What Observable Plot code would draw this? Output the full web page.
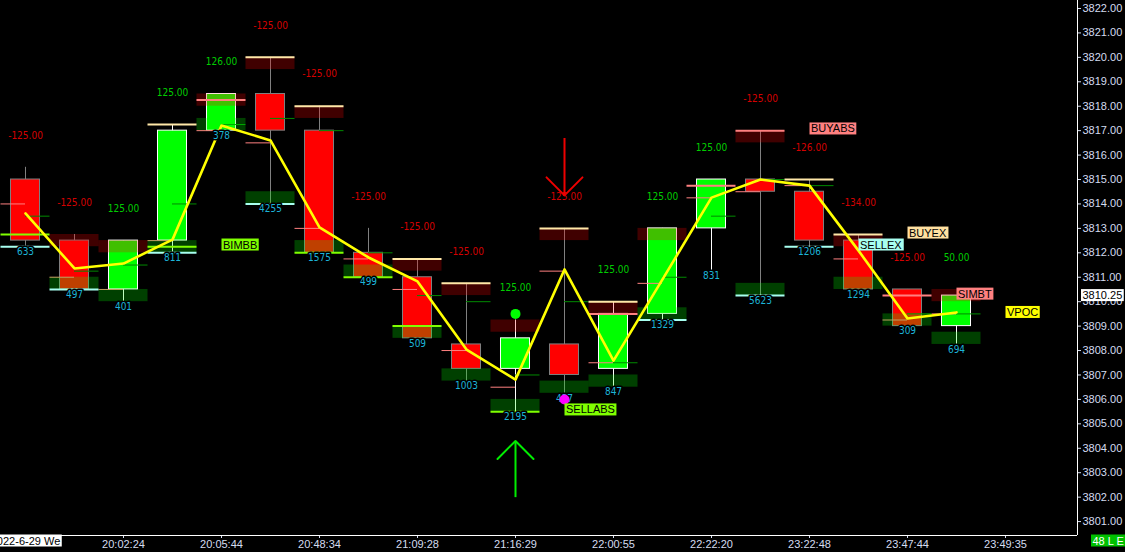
<!DOCTYPE html>
<html><head><meta charset="utf-8">
<script src="https://cdn.jsdelivr.net/npm/d3@7"></script>
<script src="https://cdn.jsdelivr.net/npm/@observablehq/plot@0.6"></script>
<style>
html,body{margin:0;padding:0;background:#000;}
#chart{width:1125px;height:552px;overflow:hidden;}
</style></head><body><div id="chart"></div>
<script>
// ---- data ----
const timeLabels = ["2022-6-29 We","20:02:24","20:05:44","20:48:34","21:09:28","21:16:29","22:00:55","22:22:20","23:22:48","23:47:44","23:49:35"];
const open  = [3815,3812.5,3810.5,3812.5,3817,3818.5,3817,3812,3811,3808.25,3807.25,3808.25,3807.25,3809.5,3813,3815,3814.5,3812.5,3810.5,3809];
const high  = [3815.5,3812.75,3812.5,3817.25,3818.5,3820,3818,3813,3811.75,3810.75,3809.25,3813,3810,3813,3815,3817,3815,3812.75,3810.5,3810.25];
const low   = [3812.25,3810.5,3810,3812,3817,3814,3812,3811,3808.5,3806.75,3805.5,3806.25,3806.5,3809.25,3811.25,3810.25,3812.25,3810.5,3809,3808.25];
const close = [3812.5,3810.5,3812.5,3817,3818.5,3817,3812,3811,3808.5,3807.25,3808.5,3807,3809.5,3813,3815,3814.5,3812.5,3810.5,3809,3810.25];
const volume = [633,497,401,811,378,4255,1575,499,509,1003,2195,437,847,1329,831,5623,1206,1294,309,694];
const delta  = [-125,-125,125,125,126,-125,-125,-125,-125,-125,125,-125,125,125,125,-125,-126,-134,-125,50];
const vwap   = [3813.61,3811.36,3811.56,3812.54,3817.21,3816.6,3813.04,3811.81,3810.83,3808.04,3806.81,3811.32,3807.59,3810.91,3814.26,3815.0,3814.75,3812.09,3809.31,3809.56];
const pinkLeft   = [3814,3811,3810.5,3812.5,3817,3816.5,3813,3811.75,3810.5,3808,3806.5,3811.25,3807.5,3810.75,3814.25,3814.5,3814.75,3811.75,3809.25,3809.5];
const greenRight = [3813.5,3811.25,3811.5,3814,3817.25,3817.5,3817,3812,3810.25,3810,3807,3810,3807.5,3811,3813.5,3815,3814.75,null,3809.5,3809.5];
const hiLine   = [null,null,null,3817.25,null,3820,3818,null,3811.75,3810.75,null,3813,3810,null,null,null,3815,3812.75,null,null];
const pinkFull = [null,null,null,null,3818.25,null,null,null,null,null,null,null,3809.5,null,3814.75,3817,null,null,3810.25,null];
const loLine   = [3812.25,3810.5,null,3812,null,3814,null,null,null,null,null,null,null,3809.25,null,3810.25,3812.25,null,null,null];
const limeLine = [3812.75,null,null,3812.25,null,null,3812,3811,3809,null,3805.5,null,null,null,null,null,null,null,null,null];
const topBand    = [null,3812.75,3812.5,null,3818.5,3820,3818,null,3811.75,3810.75,3809.25,3813,3810,3813,null,3817,null,3812.75,null,3810.5];
const bottomBand = [null,3810.5,3810,3812,3817,3814,3812,3811,3808.5,3806.75,3805.5,3806.25,3806.5,3809.25,null,3810.25,null,3810.5,3809,3808.25];
const sigText  = ["BIMBB","SELLABS","BUYABS","SELLEX","BUYEX","SIMBT","VPOC"];
const sigIndex = [4,11,16,17,18,19,20];
const sigPrice = [3812.32,3805.57,3817.07,3812.32,3812.81,3810.31,3809.56];
const sigColor = ["#80ff00","#80ff00","#ff8080","#a8fff0","#ffe0a0","#ff8080","#ffff00"];
const dotIndex = [10,11];
const dotPrice = [3809.5,3806.0];
const dotColor = ["#00ff00","#ff00ff"];
const arrowIndex = [10,11];
const arrowFrom  = [3802.0,3816.7];
const arrowTo    = [3804.3,3814.35];
const arrowColor = ["#00ee00","#ee0000"];
const lastPrice = 3810.25;
const statusText = "48 L E";

// ---- build ----
const N = open.length;
const bars = d3.range(N).map(i => ({
  i, o: open[i], h: high[i], l: low[i], c: close[i], vol: volume[i], delta: delta[i], vw: vwap[i],
  pl: pinkLeft[i], gr: greenRight[i], hi: hiLine[i], pf: pinkFull[i], lo: loLine[i], lime: limeLine[i],
  tb: topBand[i], bb: bottomBand[i]
}));
bars.forEach(d => {
  d.up = d.c > d.o;
  d.top = d.tb != null ? Math.max(d.h, d.tb) : d.h;
  d.bot = d.bb != null ? Math.min(d.l, d.bb) : d.l;
});
const sigs = sigText.map((t, k) => ({t, i: sigIndex[k], p: sigPrice[k], c: sigColor[k]}));
const dots = dotIndex.map((i, k) => ({i, p: dotPrice[k], c: dotColor[k]}));
const arrows = arrowIndex.map((i, k) => ({i, from: arrowFrom[k], to: arrowTo[k], c: arrowColor[k], k}));
const WX = 0.367, WY = 0.737; // arrow-head wing size (slot / price units)
const wings = arrows.flatMap(a => {
  const dir = Math.sign(a.to - a.from);
  return [{k: a.k, c: a.c, i: a.i - WX, p: a.to - dir * WY}, {k: a.k, c: a.c, i: a.i, p: a.to}, {k: a.k, c: a.c, i: a.i + WX, p: a.to - dir * WY}];
});

const xDomain = [-25/49, 1052/49];
const yDomain = [3800.43, 3822.327];
const HW = 0.296;
const has = k => d => d[k] != null;
const small = "'Liberation Sans Narrow', 'DejaVu Sans Condensed', 'Liberation Sans', sans-serif";
const tickIdx = d3.range(0, 21, 2);

const svg = Plot.plot({
  width: 1125, height: 552,
  marginLeft: 0, marginRight: 48, marginTop: 0, marginBottom: 17,
  style: {background: "#000", color: "#d4dcf0", fontFamily: "'Liberation Sans', Arial, sans-serif", fontSize: "11px"},
  x: {domain: xDomain, ticks: tickIdx, tickFormat: d => d === 0 ? "" : timeLabels[d / 2], tickSize: 3, tickPadding: 2, label: null},
  y: {domain: yDomain, axis: "right", ticks: d3.range(3801, 3823), tickFormat: d => d.toFixed(2), tickSize: 3, tickPadding: 2, label: null},
  marks: [
    Plot.ruleY([yDomain[0]], {stroke: "#ffffff"}),
    Plot.ruleX([xDomain[1]], {stroke: "#ffffff"}),
    // wicks & bodies
    Plot.ruleX(bars, {x: "i", y1: "l", y2: "h", stroke: d => d.up ? "#ffffff" : "#808080"}),
    Plot.rect(bars, {x1: d => d.i - HW, x2: d => d.i + HW, y1: "o", y2: "c", fill: d => d.up ? "#00ff00" : "#ff0000", stroke: d => d.up ? "#ffffff" : "#808080"}),
    // half-slot thin lines
    Plot.ruleY(bars, {filter: has("pl"), y: "pl", x1: d => d.i - 0.5, x2: d => d.i, stroke: "#ff8080"}),
    Plot.ruleY(bars, {filter: has("gr"), y: "gr", x1: d => d.i, x2: d => d.i + 0.5, stroke: "#008a00"}),
    // bid/ask zones
    Plot.rect(bars, {filter: has("tb"), x1: d => d.i - 0.5, x2: d => d.i + 0.5, y1: "tb", y2: d => d.tb - 0.5, fill: "#ff0000", fillOpacity: 0.25}),
    Plot.rect(bars, {filter: has("bb"), x1: d => d.i - 0.5, x2: d => d.i + 0.5, y1: "bb", y2: d => d.bb + 0.5, fill: "#00ff00", fillOpacity: 0.25}),
    // full-slot lines
    Plot.ruleY(bars, {filter: has("hi"), y: "hi", x1: d => d.i - 0.5, x2: d => d.i + 0.5, stroke: "#ffe8a8", strokeWidth: 2}),
    Plot.ruleY(bars, {filter: has("pf"), y: "pf", x1: d => d.i - 0.5, x2: d => d.i + 0.5, stroke: "#ff8080", strokeWidth: 2}),
    Plot.ruleY(bars, {filter: has("lo"), y: "lo", x1: d => d.i - 0.5, x2: d => d.i + 0.5, stroke: "#a8fff0", strokeWidth: 2}),
    Plot.ruleY(bars, {filter: has("lime"), y: "lime", x1: d => d.i - 0.5, x2: d => d.i + 0.5, stroke: "#80ff00", strokeWidth: 2}),
    // yellow line
    Plot.line(bars, {x: "i", y: "vw", stroke: "#ffff00", strokeWidth: 2.6}),
    // texts
    Plot.text(bars, {x: "i", y: "top", dy: -32, text: d => d.delta.toFixed(2), fill: d => d.delta < 0 ? "#d40000" : "#00cc00", fontSize: 10, fontFamily: small}),
    Plot.text(bars, {x: "i", y: "bot", dy: 5, text: d => String(d.vol), fill: "#1cb4d8", stroke: "#000", strokeWidth: 3, paintOrder: "stroke", fontSize: 10, fontFamily: small}),
    // signals
    Plot.dot(dots, {x: "i", y: "p", r: 5, fill: "c"}),
    Plot.link(arrows, {x1: "i", x2: "i", y1: "from", y2: "to", stroke: "c", strokeWidth: 2}),
    Plot.line(wings, {x: "i", y: "p", z: "k", stroke: "c", strokeWidth: 2}),
    Plot.text(sigs, {x: "i", y: "p", text: "t", textAnchor: "start", dx: 1.5, fill: "#000", fontSize: 11}),
    // axis annotations
    Plot.text([lastPrice], {x: () => xDomain[1], y: d => d, text: d => d.toFixed(2), dx: 5, textAnchor: "start", fill: "#000", fontSize: 11}),
    Plot.text([timeLabels[0]], {x: () => 0, frameAnchor: "bottom", dy: 9, text: d => d, fill: "#000", fontSize: 11}),
    Plot.text([statusText], {frameAnchor: "bottom-right", dx: 15, dy: 9, text: d => d, textAnchor: "start", fill: "#ffffff", fontSize: 11})
  ]
});
document.getElementById("chart").appendChild(svg);

// backgrounds behind labelled texts
const bgMap = new Map(sigs.map(s => [s.t, s.c]));
bgMap.set(lastPrice.toFixed(2), "#ffffff");
bgMap.set(timeLabels[0], "#ffffff");
bgMap.set(statusText, "#00c000");
const NS = "http://www.w3.org/2000/svg";
svg.querySelectorAll("text").forEach(t => {
  const c = bgMap.get(t.textContent);
  if (!c) return;
  const b = t.getBBox();
  const r = document.createElementNS(NS, "rect");
  r.setAttribute("x", b.x - 1.5);
  r.setAttribute("y", b.y);
  r.setAttribute("width", b.width + 3);
  r.setAttribute("height", b.height);
  r.setAttribute("fill", c);
  r.setAttribute("stroke", "none");
  if (t.getAttribute("transform")) r.setAttribute("transform", t.getAttribute("transform"));
  t.parentNode.insertBefore(r, t);
  if (t.textContent === lastPrice.toFixed(2)) svg.appendChild(t.parentNode);
});
</script></body></html>
